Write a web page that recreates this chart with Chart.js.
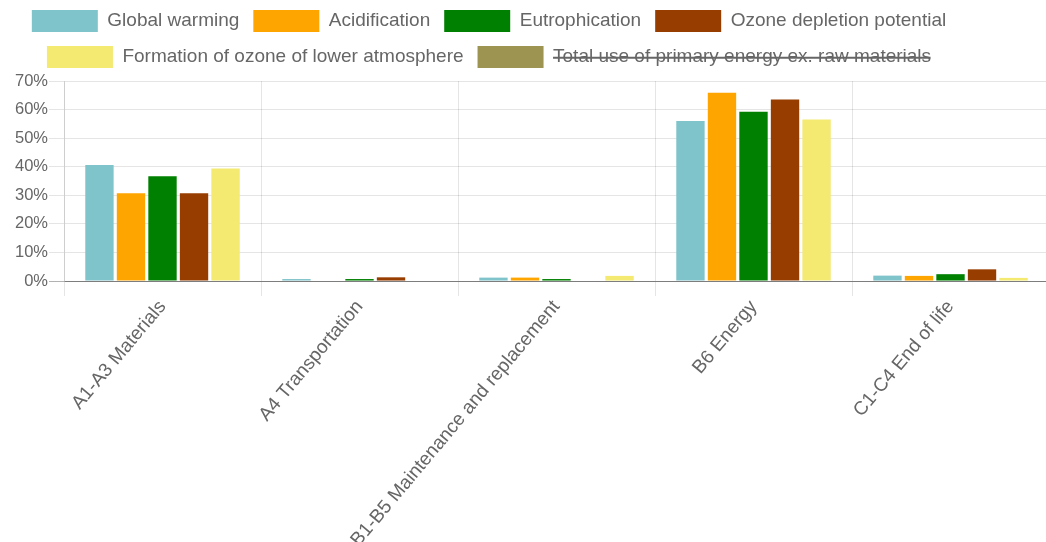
<!DOCTYPE html>
<html>
<head>
<meta charset="utf-8">
<title>Impact share per life cycle stage</title>
<script src="https://cdn.jsdelivr.net/npm/chart.js@4/dist/chart.umd.min.js"></script>
<style>
  html, body { margin: 0; padding: 0; background: #fff; overflow: hidden; }
  body { width: 1046px; height: 542px; position: relative; }
  /* the reference is a crop of a wider chart, so the canvas hangs off both sides */
  #wrap { position: absolute; left: -71px; top: -4px; width: 1120px; height: 555px; }
</style>
</head>
<body>
<div id="wrap"><canvas id="stageChart"></canvas></div>
<script>
const categories = ['A1-A3 Materials', 'A4 Transportation', 'B1-B5 Maintenance and replacement', 'B6 Energy', 'C1-C4 End of life'];

const globalWarming = [40.6, 0.7, 1.2, 56.0, 1.9];
const acidification = [30.7, 0, 1.2, 65.9, 1.8];
const eutrophication = [36.7, 0.7, 0.7, 59.2, 2.4];
const ozoneDepletion = [30.7, 1.3, 0, 63.5, 4.1];
const ozoneFormation = [39.4, 0, 1.8, 56.5, 1.1];
const primaryEnergy = [38.0, 0.4, 1.5, 58.0, 1.6];

const yTicks = [0, 10, 20, 30, 40, 50, 60, 70];

const palette = ['#80c4cb', '#ffa500', '#008000', '#983d00', '#f4e971', '#9c9450'];

Chart.defaults.font.family = '"Liberation Sans", Arial, Helvetica, sans-serif';
Chart.defaults.color = '#666';

const series = [
  { label: 'Global warming', data: globalWarming },
  { label: 'Acidification', data: acidification },
  { label: 'Eutrophication', data: eutrophication },
  { label: 'Ozone depletion potential', data: ozoneDepletion },
  { label: 'Formation of ozone of lower atmosphere', data: ozoneFormation },
  { label: 'Total use of primary energy ex. raw materials', data: primaryEnergy, hidden: true },
];

const datasets = series.map((item, idx) => ({
  ...item,
  backgroundColor: palette[idx],
  borderWidth: 0,
}));

// a little extra room between legend and plot
const legendGap = {
  id: 'legendGap',
  beforeInit(chart) {
    const fit = chart.legend.fit;
    chart.legend.fit = function () {
      fit.bind(chart.legend)();
      this.height += 3;
    };
  },
};

new Chart(document.getElementById('stageChart').getContext('2d'), {
  type: 'bar',
  data: { labels: categories, datasets },
  plugins: [legendGap],
  options: {
    responsive: true,
    maintainAspectRatio: false,
    animation: false,
    plugins: {
      legend: {
        position: 'top',
        labels: {
          boxWidth: 66,
          boxHeight: 22,
          padding: 14,
          font: { size: 19 },
          color: '#666',
        },
      },
      tooltip: { enabled: false },
    },
    scales: {
      x: {
        grid: { color: 'rgba(0,0,0,0.1)', tickLength: 15 },
        border: { color: 'rgba(0,0,0,0.3)' },
        ticks: { font: { size: 19 }, minRotation: 50, maxRotation: 50, padding: 0 },
      },
      y: {
        min: 0,
        max: yTicks[yTicks.length - 1],
        afterFit: (scale) => { scale.width = 135; },
        afterBuildTicks: (scale) => { scale.ticks = yTicks.map((value) => ({ value })); },
        grid: {
          tickLength: 15,
          color: (ctx) => (ctx.tick && ctx.tick.value === 0 ? 'rgba(0,0,0,0.3)' : 'rgba(0,0,0,0.1)'),
        },
        border: { color: 'rgba(0,0,0,0.1)' },
        ticks: { font: { size: 16.5 }, padding: 1, callback: (value) => `${value}%` },
      },
    },
  },
});
</script>
</body>
</html>
